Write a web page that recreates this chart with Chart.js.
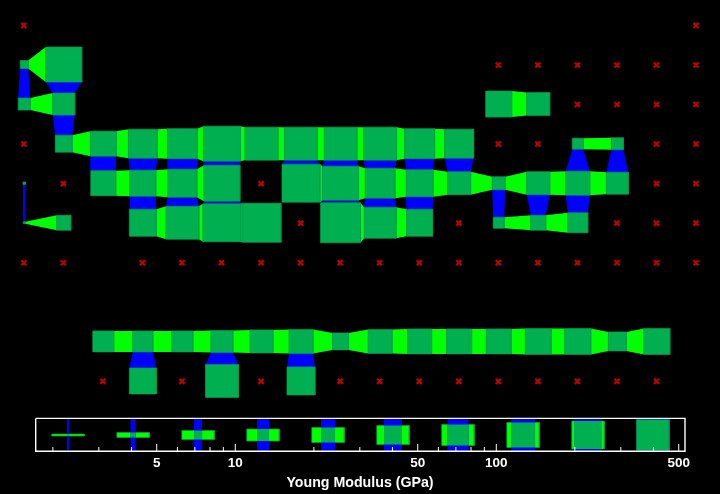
<!DOCTYPE html>
<html>
<head>
<meta charset="utf-8">
<style>html,body{margin:0;padding:0;background:#000;overflow:hidden}canvas{display:block}</style>
<script src="https://cdn.jsdelivr.net/npm/chart.js@4"></script>
</head>
<body>
<canvas id="c" width="720" height="494"></canvas>
<script>
// Network cells: grid column, grid row, width, height
const nodeCols =   [0,1, 0,1, 1,2,3,4,5,6,7,8,9,10,11, 14,15, 12,13,
                    0, 2,3,4,5,7,8,9,10,11,12,13,14,15,
                    0,1,3,4,5,6,8,9,10,12,13,14,
                    2,3,4,5,6,7,8,9,10,11,12,13,14,15,16, 3,5,7];
const nodeRows =   [1,1, 2,2, 3,3,3,3,3,3,3,3,3,3,3, 3,3, 2,2,
                    4, 4,4,4,4,4,4,4,4,4,4,4,4,4,
                    5,5,5,5,5,5,5,5,5,5,5,5,
                    8,8,8,8,8,8,8,8,8,8,8,8,8,8,8, 9,9,9];
const nodeWidths = [8,36, 12,22, 17,26,29,30,37,33,33,33,33,30,29, 11,12, 26,23,
                    2.5, 25,26,29,36,38,36,30,27,23,13,23,24,22,
                    2,14,27,33,38,39,40,32,26,11,15,20,
                    21,20,21,22,23,24,16,24,24,25,25,26,26,18,26, 27,33,28];
const nodeHeights =[8,35, 12,22, 17,25,29,30,35,33,33,33,33,30,29, 11,12, 26,23,
                    2.5, 25,26,28,36,38,34,30,27,23,13,23,24,22,
                    2,15,27,33,38,39,40,31,27,11,15,20,
                    21,21,21,22,23,24,17,24,25,25,25,26,26,19,26, 26,33,28];

// Empty grid sites (red crosses)
const crossCols = [0,17, 12,13,14,15,16,17, 14,15,16,17, 0,12,13,16,17, 1,6,16,17, 7,11,15,16,17,
                   0,1,3,4,5,6,7,8,9,10,11,12,13,14,15,16,17, 2,4,6,8,9,10,11,12,13,14,15,16];
const crossRows = [0,0, 1,1,1,1,1,1, 2,2,2,2, 3,3,3,3,3, 4,4,4,4, 5,5,5,5,5,
                   6,6,6,6,6,6,6,6,6,6,6,6,6,6,6,6,6, 9,9,9,9,9,9,9,9,9,9,9,9];

// Colour-bar key
const legendModulus = [2.286,4.06,7.20,12.77,22.66,40.2,71.3,126.6,224.6,398];
const legendBarHeights = [2,5,9,12,15,19,21,25,28,31];
const legendBarWidths  = [2,5,8,12,14,18,21,24,28,32];
const tickLabels = [5,10,50,100,500];
const majorTicks = [5,10,50,100,500];
const minorTicks = [2,3,4,6,7,8,9,20,30,40,60,70,80,90,200,300,400];

const BRIGHT='#00ff00', CELL='#00b050', BLUE='#0000ff', RED='#c00000', EDGE='#00a04a';
const X0=24.2, DX=39.54, Y0=25.0, DY=39.55;
const LOG_AT_TEN=235.3, LOG_DECADE=261;
const colX=c=>X0+DX*c, rowY=r=>Y0+DY*r;
const logX=v=>LOG_AT_TEN+LOG_DECADE*(Math.log10(v)-1);

const nodes=nodeCols.map((c,i)=>{const w=nodeWidths[i],h=nodeHeights[i],x=colX(c),y=rowY(nodeRows[i]);
  return {c,r:nodeRows[i],x,y,l:x-w/2,rt:x+w/2,t:y-h/2,b:y+h/2};});
const at=(c,r)=>nodes.find(n=>n.c===c&&n.r===r);

const poly=(pts,fillCol,edge)=>({data:pts.concat([pts[0]]),showLine:true,fill:'shape',backgroundColor:fillCol,
  borderColor:edge||'rgba(0,0,0,0)',borderWidth:edge?0.7:0,pointRadius:0,pointHoverRadius:0,tension:0,clip:false});
const rect=(l,t,r,b,f,e)=>poly([{x:l,y:t},{x:r,y:t},{x:r,y:b},{x:l,y:b}],f,e);

const layers=[];
// vertical links
nodes.forEach(a=>{const b=at(a.c,a.r+1);if(b)layers.push(poly([{x:a.l,y:a.b},{x:a.rt,y:a.b},{x:b.rt,y:b.t},{x:b.l,y:b.t}],BLUE));});
// horizontal links
nodes.forEach(a=>{const b=at(a.c+1,a.r);if(b)layers.push(poly([{x:a.rt,y:a.t},{x:b.l,y:b.t},{x:b.l,y:b.b},{x:a.rt,y:a.b}],BRIGHT));});
// cells
nodes.forEach(n=>layers.push(rect(n.l,n.t,n.rt,n.b,CELL,EDGE)));
// key glyphs
const KEY_Y=435, KEY_W=32.5, KEY_H=32.5;
legendModulus.forEach((v,i)=>{const x=logX(v),w=legendBarWidths[i]/2,h=legendBarHeights[i]/2;
  layers.push(rect(x-KEY_W/2,KEY_Y-h,x+KEY_W/2,KEY_Y+h,BRIGHT,EDGE));
  layers.push(rect(x-w,KEY_Y-KEY_H/2,x+w,KEY_Y+KEY_H/2,BLUE));
  layers.push(rect(x-w,KEY_Y-h,x+w,KEY_Y+h,CELL));
});
// crosses
layers.push({data:crossCols.map((c,i)=>({x:colX(c)-0.4,y:rowY(crossRows[i])+0.4})),showLine:false,pointStyle:'crossRot',
  pointRadius:3.6,pointBorderColor:RED,pointBorderWidth:2.2,pointBackgroundColor:RED,clip:false});
// key frame
const FRAME=[{x:35.7,y:418.4},{x:685,y:418.4},{x:685,y:451.3},{x:35.7,y:451.3},{x:35.7,y:418.4}];
layers.push({data:FRAME,showLine:true,fill:false,borderColor:'#fff',borderWidth:1.4,pointRadius:0,tension:0,clip:false});
// ticks
const tick=(v,len)=>({xAxisID:'xLog',data:[{x:v,y:451},{x:v,y:451-len}],showLine:true,fill:false,borderColor:'#fff',borderWidth:1,pointRadius:0,tension:0,clip:false});
minorTicks.forEach(v=>layers.push(tick(v,4)));
majorTicks.forEach(v=>layers.push(tick(v,7)));

// first dataset paints last in Chart.js
layers.reverse();

new Chart(document.getElementById('c'),{
  type:'scatter',
  data:{datasets:layers},
  options:{
    responsive:false,animation:false,devicePixelRatio:1,
    layout:{padding:0,autoPadding:false},
    plugins:{legend:{display:false},tooltip:{enabled:false}},
    events:[],
    scales:{
      x:{type:'linear',display:false,min:0,max:720},
      y:{type:'linear',display:false,min:0,max:452,reverse:true},
      xLog:{type:'logarithmic',axis:'x',position:'bottom',
        min:Math.pow(10,1-LOG_AT_TEN/LOG_DECADE),
        max:Math.pow(10,1+(720-LOG_AT_TEN)/LOG_DECADE),
        grid:{display:false,drawTicks:false},border:{display:false},
        afterBuildTicks:s=>{s.ticks=tickLabels.map(v=>({value:v,major:true}));},
        afterFit:s=>{s.height=42;s.paddingLeft=0;s.paddingRight=0;},
        ticks:{autoSkip:false,maxRotation:0,minRotation:0,color:'#fff',padding:3,
          font:{family:'"Liberation Sans"',weight:'bold',size:13.5},callback:v=>String(v)},
        title:{display:true,text:'Young Modulus (GPa)',color:'#fff',padding:{top:4,bottom:2},
          font:{family:'"Liberation Sans"',weight:'bold',size:14.2}}
      }
    }
  }
});
</script>
</body>
</html>
